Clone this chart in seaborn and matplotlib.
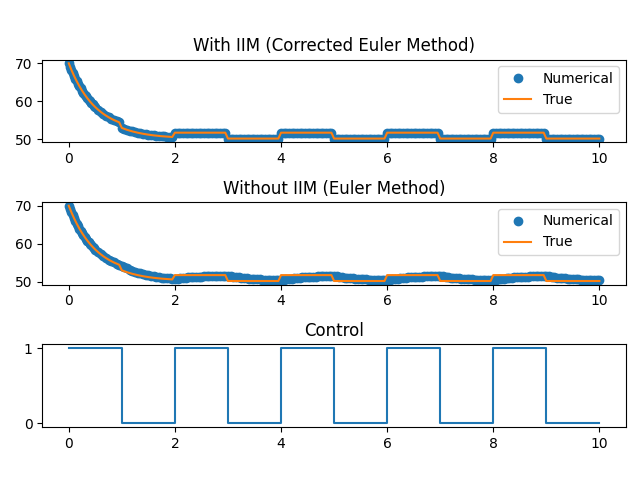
import numpy as np
import matplotlib
matplotlib.use("Agg")
import matplotlib.pyplot as plt
import seaborn as sns

# time grid: step 0.025 on [0, 0.5), then step 0.05 up to 10
t = np.concatenate([np.round(np.arange(20) * 0.025, 3),
                    np.round(np.arange(10, 201) * 0.05, 2)])

# shared initial decay, t = 0 ... 0.95
y_start = [
    70.00, 69.11, 68.26, 67.46, 66.69, 65.96, 65.27, 64.61, 63.98, 63.39,
    62.82, 62.28, 61.77, 61.28, 60.81, 60.37, 59.95, 59.55, 59.17, 58.81,
    58.46, 57.83, 57.25, 56.72, 56.25, 55.82, 55.43, 55.08, 54.77, 54.48,
]

# True solution after t = 1
y_true_rest = [
    53.00, 52.73, 52.49, 52.27, 52.08, 51.90, 51.74, 51.59, 51.46, 51.34,
    51.23, 51.13, 51.04, 50.96, 50.89, 50.82, 50.77, 50.71, 50.66, 50.62,
    51.75, 51.75, 51.75, 51.75, 51.75, 51.75, 51.75, 51.75, 51.75, 51.75,
    51.75, 51.75, 51.75, 51.75, 51.75, 51.75, 51.75, 51.75, 51.75, 51.75,
    50.20, 50.20, 50.20, 50.20, 50.20, 50.20, 50.20, 50.20, 50.20, 50.20,
    50.20, 50.20, 50.20, 50.20, 50.20, 50.20, 50.20, 50.20, 50.20, 50.20,
    51.75, 51.75, 51.75, 51.75, 51.75, 51.75, 51.75, 51.75, 51.75, 51.75,
    51.75, 51.75, 51.75, 51.75, 51.75, 51.75, 51.75, 51.75, 51.75, 51.75,
    50.20, 50.20, 50.20, 50.20, 50.20, 50.20, 50.20, 50.20, 50.20, 50.20,
    50.20, 50.20, 50.20, 50.20, 50.20, 50.20, 50.20, 50.20, 50.20, 50.20,
    51.75, 51.75, 51.75, 51.75, 51.75, 51.75, 51.75, 51.75, 51.75, 51.75,
    51.75, 51.75, 51.75, 51.75, 51.75, 51.75, 51.75, 51.75, 51.75, 51.75,
    50.20, 50.20, 50.20, 50.20, 50.20, 50.20, 50.20, 50.20, 50.20, 50.20,
    50.20, 50.20, 50.20, 50.20, 50.20, 50.20, 50.20, 50.20, 50.20, 50.20,
    51.75, 51.75, 51.75, 51.75, 51.75, 51.75, 51.75, 51.75, 51.75, 51.75,
    51.75, 51.75, 51.75, 51.75, 51.75, 51.75, 51.75, 51.75, 51.75, 51.75,
    50.20, 50.20, 50.20, 50.20, 50.20, 50.20, 50.20, 50.20, 50.20, 50.20,
    50.20, 50.20, 50.20, 50.20, 50.20, 50.20, 50.20, 50.20, 50.20, 50.20,
    50.20,
]

# Numerical without IIM (plain Euler) after t = 1
y_euler_rest = [
    54.22, 53.84, 53.49, 53.18, 52.89, 52.64, 52.41, 52.20, 52.01, 51.83,
    51.68, 51.54, 51.41, 51.30, 51.19, 51.10, 51.01, 50.93, 50.86, 50.80,
    50.74, 50.84, 50.92, 51.00, 51.07, 51.14, 51.20, 51.25, 51.30, 51.34,
    51.38, 51.41, 51.45, 51.47, 51.50, 51.52, 51.55, 51.57, 51.58, 51.60,
    51.61, 51.48, 51.35, 51.24, 51.15, 51.06, 50.97, 50.90, 50.83, 50.77,
    50.72, 50.67, 50.62, 50.58, 50.55, 50.51, 50.48, 50.46, 50.43, 50.41,
    50.39, 50.52, 50.64, 50.74, 50.84, 50.93, 51.00, 51.07, 51.14, 51.20,
    51.25, 51.30, 51.34, 51.38, 51.41, 51.45, 51.48, 51.50, 51.53, 51.55,
    51.57, 51.44, 51.32, 51.22, 51.12, 51.03, 50.95, 50.88, 50.82, 50.76,
    50.70, 50.66, 50.61, 50.57, 50.54, 50.51, 50.48, 50.45, 50.43, 50.40,
    50.39, 50.52, 50.64, 50.74, 50.84, 50.93, 51.00, 51.07, 51.14, 51.20,
    51.25, 51.30, 51.34, 51.38, 51.41, 51.45, 51.48, 51.50, 51.53, 51.55,
    51.57, 51.44, 51.32, 51.22, 51.12, 51.03, 50.95, 50.88, 50.82, 50.76,
    50.70, 50.66, 50.61, 50.57, 50.54, 50.51, 50.48, 50.45, 50.43, 50.40,
    50.39, 50.52, 50.64, 50.74, 50.84, 50.93, 51.00, 51.07, 51.14, 51.20,
    51.25, 51.30, 51.34, 51.38, 51.41, 51.45, 51.48, 51.50, 51.53, 51.55,
    51.57, 51.44, 51.32, 51.22, 51.12, 51.03, 50.95, 50.88, 50.82, 50.76,
    50.70, 50.66, 50.61, 50.57, 50.54, 50.51, 50.48, 50.45, 50.43, 50.40,
    50.39,
]

y_true = y_start + y_true_rest
y_iim = list(y_true)          # corrected method follows the true solution
y_euler = y_start + y_euler_rest

# Control signal (switch times and values)
t_ctrl = [0, 1, 2, 3, 4, 5, 6, 7, 8, 9, 10]
u_ctrl = [1, 0, 1, 0, 1, 0, 1, 0, 1, 0, 0]

titles = ["With IIM (Corrected Euler Method)", "Without IIM (Euler Method)", "Control"]

fig, axes = plt.subplots(3, 1, figsize=(6.4, 4.8), dpi=100)

for ax, y_num, title in zip(axes[:2], [y_iim, y_euler], titles[:2]):
    sns.lineplot(x=t, y=y_num, ax=ax, color="C0", marker="o", linestyle="",
                 markersize=6, markeredgecolor="C0", markeredgewidth=1,
                 label="Numerical", sort=False, estimator=None)
    sns.lineplot(x=t, y=y_true, ax=ax, color="C1", linewidth=1.5,
                 label="True", sort=False, estimator=None)
    ax.set_title(title)
    ax.set_yticks([50, 60, 70])
    ax.legend(loc="upper right")

sns.lineplot(x=t_ctrl, y=u_ctrl, ax=axes[2], color="C0", linewidth=1.5,
             drawstyle="steps-post", sort=False, estimator=None)
axes[2].set_title(titles[2])
axes[2].set_yticks([0, 1])

for ax in axes:
    ax.set_xticks([0, 2, 4, 6, 8, 10])
    ax.set_xlabel("")
    ax.set_ylabel("")

fig.subplots_adjust(left=0.066, right=0.978, top=0.876, bottom=0.11, hspace=0.72)
fig.savefig("out.png", dpi=100)
